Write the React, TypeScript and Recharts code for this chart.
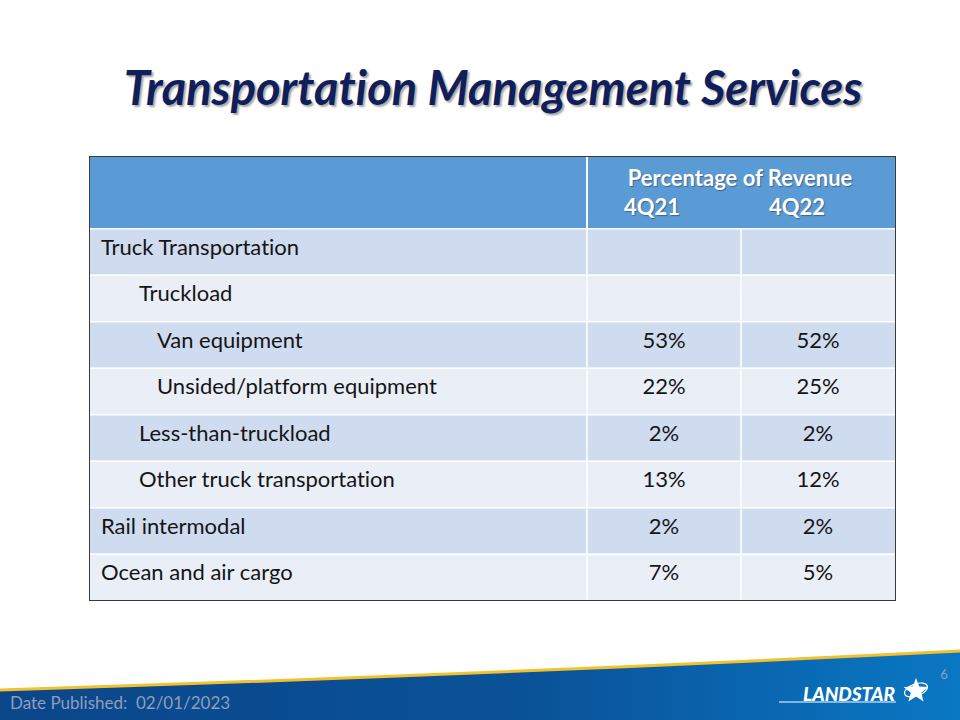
import React from 'react';
import { BarChart, Bar, XAxis, YAxis } from 'recharts';

const TITLE = 'Transportation Management Services';
const GROUP_HEADER = 'Percentage of Revenue';
const PERIODS = ['4Q21', '4Q22'];
const ROW_LABELS = [
  'Truck Transportation',
  'Truckload',
  'Van equipment',
  'Unsided/platform equipment',
  'Less-than-truckload',
  'Other truck transportation',
  'Rail intermodal',
  'Ocean and air cargo',
];
const INDENT_LEVELS = [0, 1, 2, 2, 1, 1, 0, 0];
const VALUES_4Q21: (number | null)[] = [null, null, 53, 22, 2, 13, 2, 7];
const VALUES_4Q22: (number | null)[] = [null, null, 52, 25, 2, 12, 2, 5];
const FOOTER_DATE = 'Date Published:  02/01/2023';
const PAGE_NUMBER = '6';

const rows = ROW_LABELS.map((label, i) => ({
  label,
  level: INDENT_LEVELS[i],
  q21: VALUES_4Q21[i],
  q22: VALUES_4Q22[i],
}));

const FONT = 'Lato, "Open Sans", sans-serif';
const NOLIG: React.CSSProperties = { fontVariantLigatures: 'none' };
const TABLE_W = 805;
const BODY_H = 372;
const COL1_W = 497;
const COL2_W = 154;
const INDENT_PX = [11, 49, 67];

const RowShape = (props: any) => {
  const { x, y, width, height, index, payload } = props;
  const fill = index % 2 === 0 ? '#cfdbee' : '#e9eef7';
  const ty = y + 18;
  const fmt = (v: number | null) => (v == null ? '' : `${v}%`);
  return (
    <g>
      <rect x={x} y={y} width={width} height={height} fill={fill} />
      <line x1={x} x2={x + width} y1={y + 0.75} y2={y + 0.75} stroke="#ffffff" strokeWidth={1.5} />
      <line x1={x + COL1_W} x2={x + COL1_W} y1={y} y2={y + height} stroke="#ffffff" strokeWidth={1.5} />
      <line x1={x + COL1_W + COL2_W} x2={x + COL1_W + COL2_W} y1={y} y2={y + height} stroke="#ffffff" strokeWidth={1.5} />
      <text x={x + INDENT_PX[payload.level]} y={ty} dominantBaseline="central" fontSize={22} fill="#151515" fontFamily={FONT} style={NOLIG}>
        {payload.label}
      </text>
      <text x={x + COL1_W + COL2_W / 2} y={ty} dominantBaseline="central" textAnchor="middle" fontSize={22} fill="#151515" fontFamily={FONT} style={NOLIG}>
        {fmt(payload.q21)}
      </text>
      <text x={x + COL1_W + COL2_W * 1.5} y={ty} dominantBaseline="central" textAnchor="middle" fontSize={22} fill="#151515" fontFamily={FONT} style={NOLIG}>
        {fmt(payload.q22)}
      </text>
    </g>
  );
};

const starPoints = (cx: number, cy: number, ro: number, ri: number) => {
  const pts: string[] = [];
  for (let i = 0; i < 10; i++) {
    const r = i % 2 === 0 ? ro : ri;
    const a = -Math.PI / 2 + (i * Math.PI) / 5;
    pts.push(`${(cx + r * Math.cos(a)).toFixed(1)},${(cy + r * Math.sin(a)).toFixed(1)}`);
  }
  return pts.join(' ');
};

const headerText: React.CSSProperties = {
  position: 'absolute',
  color: '#ffffff',
  fontWeight: 700,
  fontSize: 22,
  fontFamily: FONT,
  textShadow: '1px 1px 1px rgba(0,0,0,0.35)',
  lineHeight: '24px',
  whiteSpace: 'nowrap',
  fontVariantLigatures: 'none',
};

export default function App() {
  return (
    <div
      style={{
        position: 'absolute',
        left: 0,
        top: 0,
        width: 960,
        height: 720,
        background: '#ffffff',
        overflow: 'hidden',
        fontFamily: FONT,
      }}
    >
      {/* Title */}
      <div
        style={{
          position: 'absolute',
          left: 26,
          top: 60,
          width: 934,
          textAlign: 'center',
          fontSize: 47,
          lineHeight: '54px',
          fontWeight: 700,
          fontStyle: 'italic',
          color: '#0f1f5c',
          textShadow: '2px 2px 2px rgba(0,0,0,0.35)',
          fontFamily: FONT,
          whiteSpace: 'nowrap',
          fontVariantLigatures: 'none',
        }}
      >
        {TITLE}
      </div>

      {/* Table */}
      <div
        style={{
          position: 'absolute',
          left: 89,
          top: 156,
          width: TABLE_W,
          border: '1px solid #3a3a3a',
          background: '#ffffff',
        }}
      >
        <div style={{ position: 'relative', height: 71, background: '#5b9bd5' }}>
          <div
            style={{
              position: 'absolute',
              left: COL1_W - 0.75,
              top: 0,
              width: 1.5,
              height: 71,
              background: '#ffffff',
            }}
          />
          <div style={{ ...headerText, left: 650 - 150, width: 300, top: 9, textAlign: 'center' }}>
            {GROUP_HEADER}
          </div>
          <div style={{ ...headerText, left: 562 - 60, width: 120, top: 38, textAlign: 'center' }}>
            {PERIODS[0]}
          </div>
          <div style={{ ...headerText, left: 707 - 60, width: 120, top: 38, textAlign: 'center' }}>
            {PERIODS[1]}
          </div>
        </div>
        <BarChart
          width={TABLE_W}
          height={BODY_H}
          data={rows}
          layout="vertical"
          margin={{ top: 0, right: 0, bottom: 0, left: 0 }}
          barCategoryGap={0}
          barGap={0}
        >
          <XAxis type="number" domain={[0, 1]} hide />
          <YAxis type="category" dataKey="label" hide width={0} />
          <Bar dataKey={() => 1} isAnimationActive={false} shape={RowShape} />
        </BarChart>
      </div>

      {/* Footer */}
      <svg style={{ position: 'absolute', left: 0, top: 630 }} width={960} height={90}>
        <defs>
          <linearGradient id="footerGrad" x1="0" y1="0" x2="1" y2="0">
            <stop offset="0" stopColor="#0b4689" />
            <stop offset="0.55" stopColor="#0a5298" />
            <stop offset="1" stopColor="#0a78c4" />
          </linearGradient>
        </defs>
        <path d="M0,60 Q480,45 960,21 L960,90 L0,90 Z" fill="url(#footerGrad)" />
        <path d="M0,60 Q480,45 960,21" fill="none" stroke="#f2c12e" strokeWidth={3} />
        <text x={10} y={72} dominantBaseline="central" fontSize={17} fill="#8e9fb9" fontFamily={FONT} style={{ whiteSpace: 'pre' }}>
          {FOOTER_DATE}
        </text>
        <text x={944} y={44} dominantBaseline="central" textAnchor="middle" fontSize={13} fill="#8fa3bf" fontFamily={FONT}>
          {PAGE_NUMBER}
        </text>
        <text
          x={849}
          y={63}
          dominantBaseline="central"
          textAnchor="middle"
          fontSize={19}
          fontWeight={900}
          fontStyle="italic"
          fill="#ffffff"
          fontFamily={FONT}
        >
          LANDSTAR
        </text>
        <line x1={779} x2={896} y1={72} y2={72} stroke="#ffffff" strokeWidth={1} />
        <ellipse cx={916} cy={60} rx={12} ry={6} fill="none" stroke="#ffffff" strokeWidth={1.2} transform="rotate(-20 916 60)" />
        <polygon points={starPoints(916, 61, 13, 5.5)} fill="#ffffff" />
      </svg>
    </div>
  );
}
